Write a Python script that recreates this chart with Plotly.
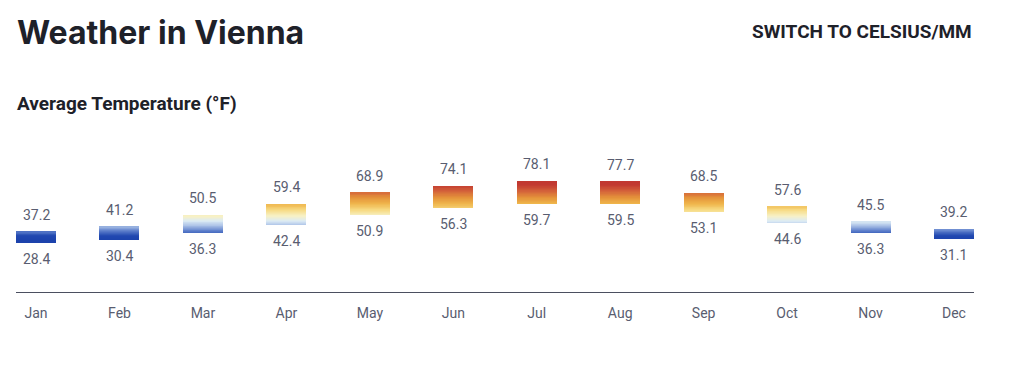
import plotly.graph_objects as go

months = ["Jan", "Feb", "Mar", "Apr", "May", "Jun", "Jul", "Aug", "Sep", "Oct", "Nov", "Dec"]
high_f = [37.2, 41.2, 50.5, 59.4, 68.9, 74.1, 78.1, 77.7, 68.5, 57.6, 45.5, 39.2]
low_f = [28.4, 30.4, 36.3, 42.4, 50.9, 56.3, 59.7, 59.5, 53.1, 44.6, 36.3, 31.1]

title_text = "Weather in Vienna"
switch_text = "SWITCH TO CELSIUS/MM"
subtitle_text = "Average Temperature (°F)"

# temperature colour scale (°F)
CMIN, CMAX = 30.0, 80.0
temp_stops = [30, 34, 38, 42, 46, 50, 55, 60, 65, 70, 75, 80]
temp_colors = ["#1c42ac", "#2148b0", "#5b7dca", "#a8bfe6", "#dcebf4", "#f7f1c6",
               "#f7da82", "#efb54b", "#e4923a", "#d4633a", "#c33b31", "#bf3530"]
colorscale = [[(t - CMIN) / (CMAX - CMIN), c] for t, c in zip(temp_stops, temp_colors)]

N_SLICES = 40
TXT = "#595d70"
DARK = "#1e2129"

fig = go.Figure()
# gradient bars: overlapping slices from each slice's lower edge up to the bar top
for i in range(N_SLICES):
    bases = [lo + (hi - lo) * i / N_SLICES for lo, hi in zip(low_f, high_f)]
    mids = [lo + (hi - lo) * (i + 0.5) / N_SLICES for lo, hi in zip(low_f, high_f)]
    heights = [hi - b for hi, b in zip(high_f, bases)]
    fig.add_trace(go.Bar(
        x=months, y=heights, base=bases, width=0.479,
        marker=dict(color=mids, colorscale=colorscale, cmin=CMIN, cmax=CMAX,
                    line=dict(width=0)),
        showlegend=False, hoverinfo="skip",
    ))

annotations = []
for m, hi, lo in zip(months, high_f, low_f):
    annotations.append(dict(x=m, y=hi, text=f"{hi:.1f}", showarrow=False,
                            yanchor="middle", yshift=17,
                            font=dict(family="Roboto", size=14, color=TXT)))
    annotations.append(dict(x=m, y=lo, text=f"{lo:.1f}", showarrow=False,
                            yanchor="middle", yshift=-16,
                            font=dict(family="Roboto", size=14, color=TXT)))

# page body has an 8px margin; figure coords = page coords - 8
OFF = 8
W, H = 1024 - 2 * OFF, 387 - 2 * OFF
PLOT_TOP, PLOT_BOT = 140.0 - OFF, 292.3 - OFF
PLOT_L, PLOT_R = 16 - OFF, 974 - OFF

def py(p):
    return (PLOT_BOT - (p - OFF)) / (PLOT_BOT - PLOT_TOP)

def px(p):
    return ((p - OFF) - PLOT_L) / (PLOT_R - PLOT_L)

annotations += [
    dict(xref="paper", yref="paper", x=px(15), y=py(32), xanchor="left", yanchor="middle",
         text=f"<b>{title_text}</b>", showarrow=False,
         font=dict(family="Inter", size=32, color=DARK)),
    dict(xref="paper", yref="paper", x=px(974), y=py(31), xanchor="right", yanchor="middle",
         text=f"<b>{switch_text}</b>", showarrow=False,
         font=dict(family="Roboto", size=19, color=DARK)),
    dict(xref="paper", yref="paper", x=px(15), y=py(103), xanchor="left", yanchor="middle",
         text=f"<b>{subtitle_text}</b>", showarrow=False,
         font=dict(family="Roboto", size=19, color=DARK)),
]

fig.update_layout(
    width=W, height=H,
    margin=dict(l=PLOT_L, r=W - PLOT_R, t=PLOT_TOP, b=H - PLOT_BOT),
    paper_bgcolor="white", plot_bgcolor="white",
    barmode="overlay", bargap=0,
    annotations=annotations,
    showlegend=False,
    xaxis=dict(range=[-0.24, 11.24], showline=True, linecolor="#4b4f60", linewidth=1,
               showgrid=False, zeroline=False, ticks="outside", ticklen=8,
               tickcolor="rgba(0,0,0,0)", fixedrange=True,
               tickfont=dict(family="Roboto", size=14, color=TXT)),
    yaxis=dict(range=[-11.3, -11.3 + (PLOT_BOT - PLOT_TOP) / 1.241], visible=False,
               showgrid=False, zeroline=False, fixedrange=True),
)

fig.write_html("out.html", config={"displayModeBar": False})
